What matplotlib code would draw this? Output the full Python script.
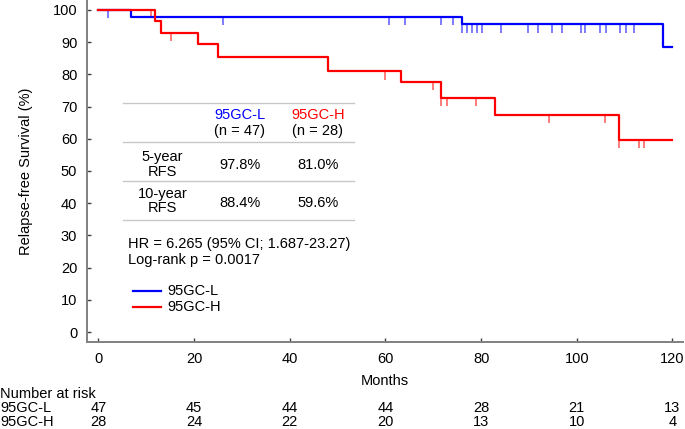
import numpy as np
import matplotlib
matplotlib.use("Agg")
import matplotlib.pyplot as plt
from matplotlib.lines import Line2D
from matplotlib import transforms

plt.rcParams['font.family'] = ['Liberation Sans', 'DejaVu Sans']

# ---- data ----
groups = ["95GC-L", "95GC-H"]
colors = ["#0000ff", "#ff0000"]

low_times = [0, 6.8, 76.0, 118.0, 120]
low_surv = [100, 97.9, 95.5, 88.4, 88.4]
low_censor = [2.0, 26.1, 60.8, 64.1, 71.7, 74.2, 76.0, 77.0, 78.0, 79.1, 80.1,
              84.1, 89.8, 91.9, 94.9, 96.9, 100.8, 101.8, 104.9, 106.0,
              109.1, 110.2, 111.9]

high_times = [0, 11.8, 13.0, 20.9, 24.9, 47.9, 63.2, 71.7, 83.0, 108.8, 120]
high_surv = [100, 96.5, 92.9, 89.3, 85.3, 81.0, 77.6, 72.7, 67.4, 59.6, 59.6]
high_censor = [11.0, 15.1, 59.9, 70.0, 71.7, 72.9, 78.9, 94.1, 105.8, 108.8,
               112.9, 114.1]

x_ticks = [0, 20, 40, 60, 80, 100, 120]
y_ticks = [0, 10, 20, 30, 40, 50, 60, 70, 80, 90, 100]
risk_low = [47, 45, 44, 44, 28, 21, 13]
risk_high = [28, 24, 22, 20, 13, 10, 4]

n_groups = ["(n = 47)", "(n = 28)"]
rfs5 = ["97.8%", "81.0%"]
rfs10 = ["88.4%", "59.6%"]
hr_text = "HR = 6.265 (95% CI; 1.687-23.27)"
p_text = "Log-rank p = 0.0017"

W, H = 685, 429
fig = plt.figure(figsize=(W / 100, H / 100), dpi=100)
ax = fig.add_axes([87 / W, 1 - 342 / H, (683 - 87) / W, 342 / H])

def px(x, y):
    return x / W, 1 - y / H

series = [(low_times, low_surv, low_censor), (high_times, high_surv, high_censor)]
for (t, s, c), col in zip(series, colors):
    ax.step(t, s, where='post', color=col, lw=1.6, zorder=3)
    t_arr = np.array(t)
    s_arr = np.array(s)
    idx = np.searchsorted(t_arr, np.array(c), side='right') - 1
    ys = s_arr[idx]
    ax.vlines(c, ys - 2.6, ys, color=col, lw=1.2, alpha=0.6, zorder=2)

fs = 10.5
ax.set_xlim(-2.4, 122.2)
ax.set_ylim(-3.1, 103.1)
ax.set_xticks(x_ticks)
ax.set_yticks(y_ticks)
for sp in ['top', 'right']:
    ax.spines[sp].set_visible(False)
for sp in ['left', 'bottom']:
    ax.spines[sp].set_color('#808080')
    ax.spines[sp].set_linewidth(1.4)
ax.tick_params(axis='both', direction='in', length=3, width=1, color='#404040',
               labelsize=fs)
ax.tick_params(axis='x', pad=7)
ax.tick_params(axis='y', pad=7)
ax.set_ylabel("Relapse-free Survival (%)", fontsize=fs)
ax.yaxis.set_label_coords((33 - 87) / 596, 0.5)
ax.set_xlabel("Months", fontsize=fs)
ax.xaxis.set_label_coords(0.5, (342 - 374) / 342)

# ---- table ----
for yl in [102.7, 141.7, 180.7, 220]:
    x0, y0 = px(122.7, yl)
    x1, _ = px(354, yl)
    fig.add_artist(Line2D([x0, x1], [y0, y0], color='#c8c8c8', lw=1.0,
                          transform=fig.transFigure))

col_x = [240, 318]
for i in range(2):
    fig.text(*px(col_x[i], 115), groups[i], color=colors[i], ha='center', va='center', fontsize=fs)
    fig.text(*px(col_x[i], 131.5), n_groups[i], ha='center', va='center', fontsize=fs)
    fig.text(*px(col_x[i], 165), rfs5[i], ha='center', va='center', fontsize=fs)
    fig.text(*px(col_x[i], 202.5), rfs10[i], ha='center', va='center', fontsize=fs)
fig.text(*px(162.7, 157), "5-year", ha='center', va='center', fontsize=fs)
fig.text(*px(162.7, 171.5), "RFS", ha='center', va='center', fontsize=fs)
fig.text(*px(162.7, 194), "10-year", ha='center', va='center', fontsize=fs)
fig.text(*px(162.7, 208.5), "RFS", ha='center', va='center', fontsize=fs)

fig.text(*px(128.5, 244), hr_text, ha='left', va='center', fontsize=fs)
fig.text(*px(128.5, 260), p_text, ha='left', va='center', fontsize=fs)

# legend
for i, yl in enumerate([291, 307.3]):
    x0, y0 = px(132.7, yl)
    x1, _ = px(161, yl)
    fig.add_artist(Line2D([x0, x1], [y0, y0], color=colors[i], lw=1.6,
                          transform=fig.transFigure))
    fig.text(*px(167.7, yl), groups[i], ha='left', va='center', fontsize=fs)

# ---- number at risk ----
tr = transforms.blended_transform_factory(ax.transData, fig.transFigure)
fig.text(*px(0, 394.5), "Number at risk", ha='left', va='center', fontsize=fs)
for row, (name, vals) in enumerate(zip(groups, [risk_low, risk_high])):
    yy = 1 - (408.5 + 13.8 * row) / H
    fig.text(0, yy, name, ha='left', va='center', fontsize=fs)
    for xt, v in zip(x_ticks, vals):
        ax.text(xt, yy, str(v), transform=tr, ha='center', va='center', fontsize=fs)

fig.savefig("out.png", dpi=100)
